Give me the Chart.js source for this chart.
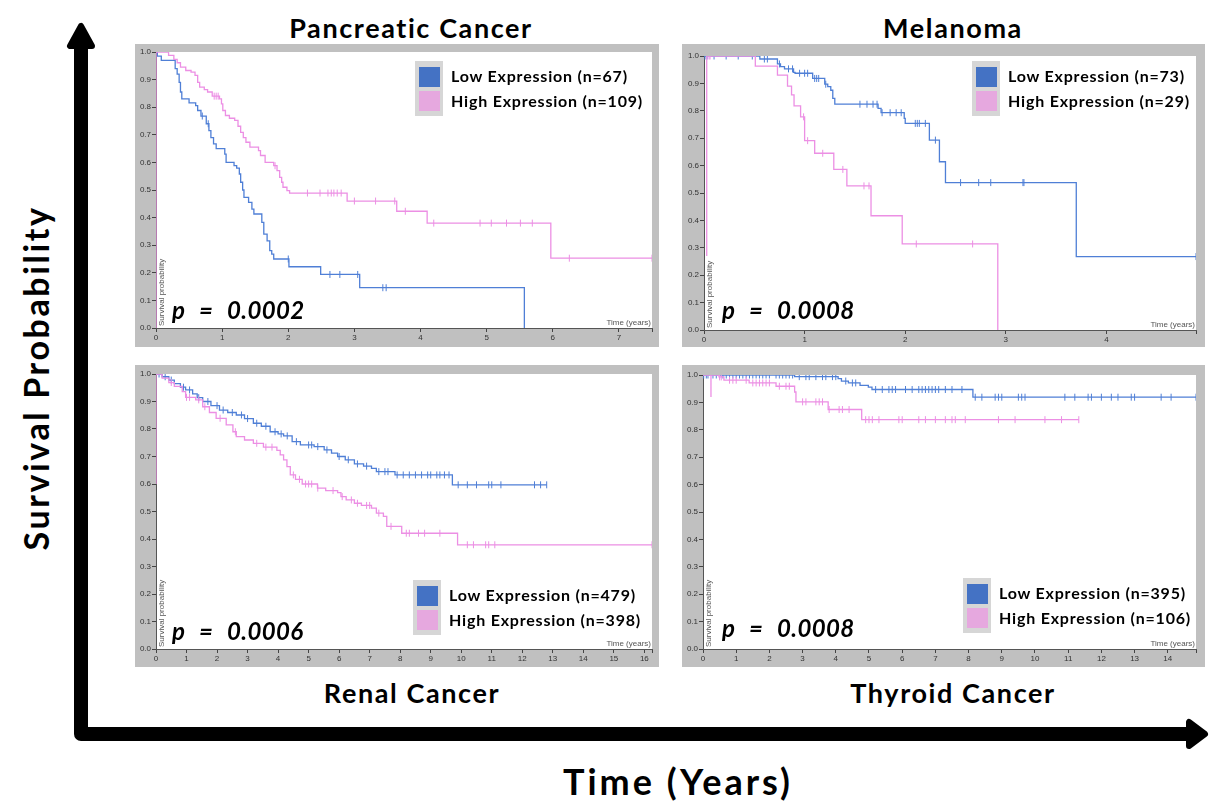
<!DOCTYPE html>
<html>
<head>
<meta charset="utf-8">
<script src="https://cdn.jsdelivr.net/npm/chart.js@4.4.1/dist/chart.umd.min.js"></script>
<style>
  body { margin: 0; width: 1209px; height: 802px; background: #fff; position: relative; overflow: hidden;
         font-family: 'Comic Sans MS', Lato, sans-serif; }
  .title { position: absolute; font-weight: bold; font-size: 27px; letter-spacing: 1.6px; transform: translate(-50%, -50%); white-space: nowrap; color: #000; }
  .panel { position: absolute; background: #c0c0c0; }
  .pval { position: absolute; font-style: italic; font-weight: bold; font-size: 24px; word-spacing: 8px; letter-spacing: 0.4px; transform: translateY(-50%); white-space: nowrap; }
  .lg { position: absolute; }
  .lg .box { position: absolute; left: 0; top: 0; width: 28px; height: 55px; background: #d6d6d6; }
  .lg .sq { position: absolute; left: 4px; width: 21px; height: 20px; }
  .lg .txt { position: absolute; left: 36px; font-size: 16px; letter-spacing: 0.8px; font-weight: bold; white-space: nowrap; transform: translateY(-50%); }
</style>
</head>
<body>
<svg width="1209" height="802" style="position:absolute;left:0;top:0">
  <path d="M81,48 L81,734 L1190,734" stroke="#000" stroke-width="14" fill="none" stroke-linejoin="round"/>
  <path d="M81,26 L70,46 L92,46 Z" fill="#000" stroke="#000" stroke-width="6" stroke-linejoin="round"/>
  <path d="M1205,734 L1189,722 L1189,746 Z" fill="#000" stroke="#000" stroke-width="6" stroke-linejoin="round"/>
</svg>
<script>
// Pancreatic cancer (top left)
const pancLowT = [0, 0.02, 0.08, 0.29, 0.32, 0.35, 0.37, 0.39, 0.50, 0.60, 0.63, 0.68, 0.76, 0.80, 0.83, 0.87, 0.91, 1.04, 1.06, 1.18, 1.22, 1.26, 1.28, 1.31, 1.33, 1.40, 1.45, 1.48, 1.60, 1.63, 1.68, 1.72, 1.75, 1.78, 2.01, 2.49, 3.08, 5.57];
const pancLowS = [1.0, 0.985, 0.97, 0.94, 0.92, 0.89, 0.855, 0.83, 0.816, 0.806, 0.788, 0.768, 0.74, 0.715, 0.69, 0.667, 0.65, 0.63, 0.60, 0.588, 0.579, 0.558, 0.528, 0.50, 0.473, 0.455, 0.431, 0.413, 0.383, 0.34, 0.316, 0.28, 0.268, 0.25, 0.222, 0.194, 0.146, 0.0];
const pancLowCensor = [0.70, 0.79, 2.0, 2.63, 2.78, 3.05, 3.43, 3.48];
const pancHighT = [0, 0, 0.19, 0.27, 0.32, 0.37, 0.45, 0.53, 0.59, 0.63, 0.66, 0.73, 0.78, 0.85, 0.96, 0.99, 1.01, 1.05, 1.11, 1.19, 1.24, 1.28, 1.32, 1.36, 1.42, 1.55, 1.58, 1.65, 1.78, 1.83, 1.87, 1.90, 1.92, 1.98, 2.02, 2.89, 3.64, 4.10, 5.97, 7.5];
const pancHighS = [0, 1.0, 0.988, 0.973, 0.961, 0.945, 0.933, 0.927, 0.915, 0.89, 0.873, 0.864, 0.855, 0.84, 0.83, 0.812, 0.788, 0.77, 0.76, 0.752, 0.731, 0.709, 0.69, 0.673, 0.655, 0.643, 0.625, 0.60, 0.588, 0.57, 0.546, 0.528, 0.51, 0.498, 0.489, 0.46, 0.423, 0.38, 0.253, 0.253];
const pancHighCensor = [0.88, 0.91, 0.94, 1.80, 2.29, 2.48, 2.60, 2.65, 2.69, 2.74, 2.80, 3.0, 3.32, 3.61, 3.77, 4.2, 4.9, 5.07, 5.3, 5.51, 5.69, 6.25, 7.5];

// Melanoma (top right)
const melLowT = [0, 0.555, 0.73, 0.76, 0.80, 0.89, 0.905, 1.08, 1.20, 1.23, 1.26, 1.28, 1.30, 1.73, 1.76, 1.99, 2.00, 2.24, 2.34, 2.40, 3.70, 4.89];
const melLowS = [1.0, 0.989, 0.971, 0.961, 0.953, 0.94, 0.937, 0.918, 0.897, 0.888, 0.875, 0.845, 0.824, 0.809, 0.793, 0.772, 0.754, 0.693, 0.614, 0.538, 0.268, 0.268];
const melLowCensor = [0.01, 0.03, 0.1, 0.22, 0.34, 0.48, 0.60, 0.63, 0.75, 0.84, 0.88, 0.95, 1.0, 1.03, 1.1, 1.12, 1.14, 1.21, 1.55, 1.62, 1.68, 1.72, 1.77, 1.85, 1.91, 1.96, 2.1, 2.12, 2.14, 2.2, 2.3, 2.55, 2.73, 2.85, 3.17, 3.18, 4.89];
const melHighT = [0.027, 0.027, 0.51, 0.73, 0.83, 0.87, 0.895, 0.96, 1.0, 1.1, 1.29, 1.42, 1.66, 1.97, 2.92];
const melHighS = [0.27, 1.0, 0.963, 0.93, 0.89, 0.858, 0.818, 0.778, 0.691, 0.645, 0.586, 0.526, 0.417, 0.314, 0.0];
const melHighCensor = [0.05, 0.06, 0.99, 1.03, 1.18, 1.38, 1.59, 1.64, 2.11, 2.67];

// Renal cancer (bottom left)
const renLowT = [0, 0.2, 0.42, 0.6, 0.8, 0.97, 1.2, 1.35, 1.53, 1.8, 2.08, 2.35, 2.63, 2.9, 3.19, 3.45, 3.74, 4.0, 4.18, 4.46, 4.73, 5.18, 5.51, 5.75, 5.95, 6.2, 6.5, 6.8, 7.06, 7.22, 7.83, 9.71, 12.8];
const renLowS = [1.0, 0.99, 0.978, 0.965, 0.952, 0.942, 0.928, 0.914, 0.90, 0.885, 0.869, 0.86, 0.851, 0.838, 0.821, 0.81, 0.79, 0.782, 0.775, 0.754, 0.742, 0.736, 0.724, 0.712, 0.70, 0.688, 0.673, 0.665, 0.657, 0.645, 0.633, 0.597, 0.597];
const renLowCensor = [0.1, 0.3, 0.5, 0.9, 1.1, 1.4, 1.7, 2.0, 2.2, 2.5, 2.8, 3.0, 3.3, 3.6, 3.9, 4.1, 4.3, 4.6, 5.0, 5.1, 5.3, 5.6, 6.0, 6.3, 6.6, 6.9, 7.3, 7.5, 7.6, 7.9, 8.1, 8.3, 8.5, 8.7, 8.9, 9.0, 9.2, 9.3, 9.45, 9.6, 9.9, 10.2, 10.5, 10.9, 11.0, 11.3, 12.4, 12.6, 12.8];
const renHighT = [0, 0, 0.2, 0.42, 0.6, 0.86, 0.97, 1.3, 1.53, 1.75, 1.97, 2.3, 2.52, 2.63, 2.9, 3.19, 3.52, 3.96, 4.07, 4.18, 4.29, 4.4, 4.57, 4.79, 5.29, 5.56, 5.95, 6.06, 6.23, 6.5, 6.73, 7.06, 7.22, 7.45, 7.56, 8.05, 9.88, 16.25];
const renHighS = [0.6, 1.0, 0.985, 0.969, 0.955, 0.936, 0.915, 0.906, 0.881, 0.86, 0.839, 0.815, 0.79, 0.772, 0.76, 0.748, 0.734, 0.722, 0.706, 0.688, 0.663, 0.633, 0.617, 0.60, 0.585, 0.576, 0.569, 0.554, 0.542, 0.53, 0.522, 0.512, 0.494, 0.482, 0.446, 0.421, 0.379, 0.379];
const renHighCensor = [0.5, 1.0, 1.1, 1.4, 1.6, 2.1, 2.6, 3.3, 3.6, 3.8, 4.5, 4.7, 4.9, 5.0, 5.1, 5.3, 5.8, 6.1, 6.4, 6.6, 6.9, 7.0, 7.3, 7.7, 8.2, 8.3, 8.6, 8.8, 9.3, 10.2, 10.4, 10.8, 10.9, 11.1, 16.25];

// Thyroid cancer (bottom right)
const thyLowT = [0, 2.76, 4.07, 4.17, 4.38, 4.73, 4.98, 5.09, 8.13, 14.85];
const thyLowS = [1.0, 0.994, 0.987, 0.978, 0.971, 0.962, 0.956, 0.947, 0.919, 0.919];
const thyLowCensor = [0.02, 0.1, 0.15, 0.3, 0.4, 0.5, 0.6, 0.7, 0.8, 0.9, 1.0, 1.1, 1.2, 1.3, 1.4, 1.5, 1.6, 1.7, 1.8, 1.9, 2.0, 2.2, 2.3, 2.4, 2.5, 2.6, 2.7, 2.9, 3.1, 3.2, 3.4, 3.6, 3.7, 3.9, 4.0, 4.3, 4.5, 4.6, 5.2, 5.4, 5.6, 5.7, 5.8, 6.1, 6.3, 6.5, 6.6, 6.7, 6.8, 6.9, 7.0, 7.1, 7.3, 7.5, 7.8, 8.2, 8.4, 8.8, 8.9, 9.0, 9.5, 9.6, 9.7, 10.9, 11.2, 11.6, 11.7, 12.0, 12.3, 12.5, 12.9, 13.0, 13.8, 14.1, 14.85];
const thyHighT = [0, 0.24, 0.24, 0.24, 0.48, 0.63, 1.39, 2.2, 2.76, 2.8, 3.77, 4.78, 11.32];
const thyHighS = [1.0, 1.0, 0.92, 1.0, 0.993, 0.981, 0.971, 0.959, 0.938, 0.902, 0.874, 0.837, 0.837];
const thyHighCensor = [0.5, 0.55, 0.8, 0.9, 1.0, 1.3, 1.5, 1.6, 1.7, 1.8, 1.9, 2.0, 2.3, 2.5, 2.6, 3.0, 3.1, 3.4, 3.5, 3.6, 3.8, 4.1, 4.2, 4.4, 4.9, 5.0, 5.1, 5.3, 5.9, 6.0, 6.5, 6.7, 7.0, 7.3, 7.5, 7.6, 7.9, 8.9, 9.4, 10.3, 10.8, 11.32];

const BLUE = '#4f7fd6';
const PINK = '#ec8fe4';

// survival value of a step curve at time t
function stepValue(T, S, t) {
    let v = S[0];
    for (let i = 0; i < T.length; i++) if (T[i] <= t) v = S[i];
    return v;
}

function curve(T, S, color) {
    return {
        data: T.map((t, i) => ({ x: t, y: S[i] })),
        showLine: true, stepped: true, borderColor: color, borderWidth: 1.3,
        pointRadius: 0, pointHoverRadius: 0
    };
}

function censor(times, T, S, color) {
    return {
        data: times.map(t => ({ x: t, y: stepValue(T, S, t) })),
        showLine: false, pointStyle: 'line', rotation: 90, pointRadius: 3.5,
        borderColor: color, borderWidth: 1, pointHoverRadius: 0
    };
}

const panelBg = {
    id: 'panelBg',
    beforeDraw(chart) {
        const { ctx, chartArea: a } = chart;
        ctx.save();
        ctx.fillStyle = '#c0c0c0';
        ctx.fillRect(0, 0, chart.width, chart.height);
        ctx.fillStyle = '#fff';
        ctx.fillRect(a.left, a.top, a.right - a.left, a.bottom - a.top);
        ctx.restore();
    },
    afterDraw(chart) {
        const { ctx, chartArea: a } = chart;
        ctx.save();
        ctx.fillStyle = '#555';
        ctx.font = '8px "Liberation Sans", Arial';
        ctx.textAlign = 'right';
        ctx.textBaseline = 'bottom';
        ctx.fillText('Time (years)', a.right - 1, a.bottom - 1);
        ctx.translate(a.left + 2, a.bottom - 2);
        ctx.rotate(-Math.PI / 2);
        ctx.textAlign = 'left';
        ctx.textBaseline = 'top';
        ctx.fillText('Survival probability', 0, 0);
        ctx.restore();
    }
};

function makePanel(box, area, xMax, lowT, lowS, lowC, highT, highS, highC) {
    const div = document.createElement('div');
    div.className = 'panel';
    div.style.left = box[0] + 'px';
    div.style.top = box[1] + 'px';
    const canvas = document.createElement('canvas');
    canvas.width = box[2];
    canvas.height = box[3];
    div.appendChild(canvas);
    document.body.appendChild(div);

    const padLeft = area[0] - box[0];
    const padTop = area[1] - box[1];
    const padRight = box[0] + box[2] - area[2];
    const padBottom = box[1] + box[3] - area[3];
    const tickFont = { family: '"Liberation Sans", Arial', size: 8 };

    new Chart(canvas, {
        type: 'scatter',
        data: {
            datasets: [
                curve(highT, highS, PINK),
                censor(highC, highT, highS, PINK),
                curve(lowT, lowS, BLUE),
                censor(lowC, lowT, lowS, BLUE)
            ]
        },
        options: {
            responsive: false,
            animation: false,
            events: [],
            layout: { padding: { top: padTop, right: padRight, left: 0, bottom: 0 } },
            plugins: { legend: { display: false }, tooltip: { enabled: false } },
            scales: {
                x: {
                    type: 'linear', min: 0, max: xMax,
                    afterFit: s => { s.height = padBottom; },
                    // whole years plus an unlabelled tick at the axis end
                    afterBuildTicks: s => {
                        const ticks = [];
                        for (let v = 0; v <= xMax; v++) ticks.push({ value: v });
                        if (!Number.isInteger(xMax)) ticks.push({ value: xMax });
                        s.ticks = ticks;
                    },
                    ticks: { font: tickFont, color: '#333', padding: 1, maxRotation: 0, autoSkip: false,
                             callback: v => Number.isInteger(v) ? v : '' },
                    grid: { drawOnChartArea: false, tickLength: 4, color: '#444' },
                    border: { color: '#555' }
                },
                y: {
                    type: 'linear', min: 0, max: 1,
                    afterFit: s => { s.width = padLeft; },
                    ticks: { stepSize: 0.1, font: tickFont, color: '#333', padding: 1,
                             callback: v => v.toFixed(1) },
                    grid: { drawOnChartArea: false, tickLength: 4, color: '#444' },
                    border: { color: '#555' }
                }
            }
        },
        plugins: [panelBg]
    });
}

function addText(cls, text, x, y, extra) {
    const d = document.createElement('div');
    d.className = cls;
    d.textContent = text;
    d.style.left = x + 'px';
    d.style.top = y + 'px';
    if (extra) Object.assign(d.style, extra);
    document.body.appendChild(d);
}

function addLegend(x, y, lowLabel, highLabel) {
    const lg = document.createElement('div');
    lg.className = 'lg';
    lg.style.left = x + 'px';
    lg.style.top = y + 'px';
    lg.innerHTML =
        '<div class="box"></div>' +
        '<div class="sq" style="top:6px;background:#4472c4"></div>' +
        '<div class="sq" style="top:30px;background:#e6a8df"></div>' +
        '<div class="txt" style="top:14px">' + lowLabel + '</div>' +
        '<div class="txt" style="top:39px">' + highLabel + '</div>';
    document.body.appendChild(lg);
}

makePanel([135, 44, 524, 303], [156, 52, 652, 328], 7.5, pancLowT, pancLowS, pancLowCensor, pancHighT, pancHighS, pancHighCensor);
makePanel([682, 44, 523, 303], [704, 56, 1196, 330], 4.89, melLowT, melLowS, melLowCensor, melHighT, melHighS, melHighCensor);
makePanel([135, 365, 524, 302], [156, 374, 652, 649], 16.25, renLowT, renLowS, renLowCensor, renHighT, renHighS, renHighCensor);
makePanel([682, 365, 523, 302], [703, 375, 1196, 649], 14.85, thyLowT, thyLowS, thyLowCensor, thyHighT, thyHighS, thyHighCensor);

addLegend(415, 61, 'Low Expression (n=67)', 'High Expression (n=109)');
addLegend(972, 61, 'Low Expression (n=73)', 'High Expression (n=29)');
addLegend(413, 580, 'Low Expression (n=479)', 'High Expression (n=398)');
addLegend(963, 578, 'Low Expression (n=395)', 'High Expression (n=106)');

addText('pval', 'p = 0.0002', 172, 309);
addText('pval', 'p = 0.0008', 722, 309);
addText('pval', 'p = 0.0006', 172, 630);
addText('pval', 'p = 0.0008', 722, 627);

addText('title', 'Pancreatic Cancer', 411, 27);
addText('title', 'Melanoma', 953, 27);
addText('title', 'Renal Cancer', 412, 692);
addText('title', 'Thyroid Cancer', 953, 692);
addText('title', 'Time (Years)', 678, 781, { fontSize: '36px', letterSpacing: '3px' });
addText('title', 'Survival Probability', 35, 378, { fontSize: '34px', letterSpacing: '2.6px', transform: 'translate(-50%, -50%) rotate(-90deg)' });
</script>
</body>
</html>
